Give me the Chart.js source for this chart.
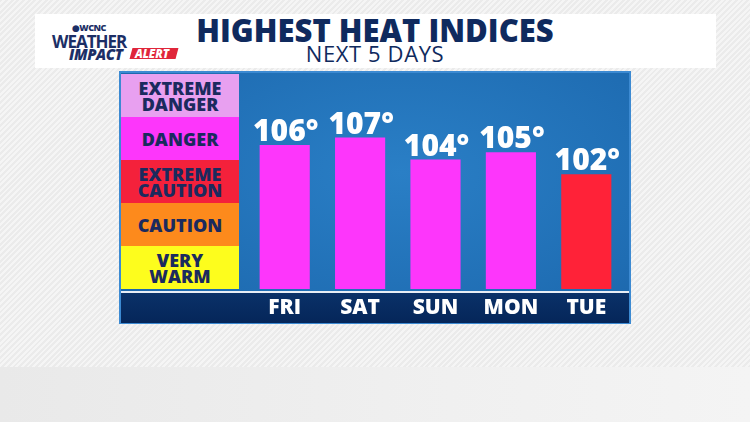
<!DOCTYPE html>
<html>
<head>
<meta charset="utf-8">
<script src="https://cdn.jsdelivr.net/npm/chart.js@4"></script>
<style>
  body { margin: 0; width: 750px; height: 422px; overflow: hidden; position: relative;
         font-family: "Open Sans", "DejaVu Sans", sans-serif;
         background: #ececec; }
  #bgtop { position: absolute; left: 0; top: 0; width: 750px; height: 367px;
           background: repeating-linear-gradient(135deg, #ebebeb 0 2px, #f5f5f5 2px 4px); }
  #bgbot { position: absolute; left: 0; top: 367px; width: 750px; height: 55px;
           background: linear-gradient(90deg, #e9e9e9, #f0f0f0 60%, #f4f4f4); }
  #header { position: absolute; left: 35px; top: 14px; width: 681px; height: 54px; background: #fff; }
  #title { position: absolute; left: 0; width: 750px; top: 12px; text-align: center;
           color: #0f2a5e; font-weight: 800; font-size: 31px; line-height: 36px; }
  #sub { position: absolute; left: 0; width: 750px; top: 41px; text-align: center;
         color: #0f2a5e; font-size: 22px; letter-spacing: 0.6px; line-height: 24px; }
  #logo { position: absolute; left: 52px; top: 21px; color: #1c2f66; }
  #panel { position: absolute; left: 119px; top: 71px; width: 508px; height: 249px;
           border: 2px solid #3c8ad2;
           background: radial-gradient(ellipse at 55% 40%, #2a7fc6 0%, #1f6db3 70%, #1b62a6 100%); }
  #strip { position: absolute; left: 121px; top: 291px; width: 508px; height: 30px;
           border-top: 2px solid #e8eef6;
           background: linear-gradient(180deg, #0a3168, #052659); }
  .band { position: absolute; left: 121px; width: 118px; height: 43px; color: #1b2a5e;
          font-weight: 800; font-size: 18px; line-height: 16px; text-align: center;
          display: flex; align-items: center; justify-content: center; }
  canvas { position: absolute; left: 0; top: 0; }
</style>
</head>
<body>
<div id="bgtop"></div>
<div id="bgbot"></div>
<div id="header"></div>
<div id="title">HIGHEST HEAT INDICES</div>
<div id="sub">NEXT 5 DAYS</div>
<div id="logo">
  <div style="position:absolute;left:20px;top:0px;font-size:9px;font-weight:800;letter-spacing:-0.5px;">&#9679;WCNC</div>
  <div style="position:absolute;left:0px;top:9px;font-size:17px;font-weight:700;letter-spacing:-1px;font-family:'Liberation Sans Narrow','Open Sans',sans-serif;">WEATHER</div>
  <div style="position:absolute;left:17px;top:23px;font-size:15px;font-weight:800;font-style:italic;letter-spacing:-0.4px;">IMPACT</div>
  <div style="position:absolute;left:79px;top:27px;width:46px;height:11px;background:#e0263a;transform:skewX(-15deg);"></div>
  <div style="position:absolute;left:83px;top:24.5px;font-size:11.5px;font-weight:800;font-style:italic;color:#fff;">ALERT</div>
</div>
<div id="panel"></div>
<div id="strip"></div>
<div class="band" style="top:74px;background:#e8a0f0;">EXTREME<br>DANGER</div>
<div class="band" style="top:117px;background:#fd36fb;">DANGER</div>
<div class="band" style="top:160px;background:#f4213b;">EXTREME<br>CAUTION</div>
<div class="band" style="top:203px;background:#fd8a1c;">CAUTION</div>
<div class="band" style="top:246px;background:#fdfd1d;">VERY<br>WARM</div>
<canvas id="chart" width="750" height="422"></canvas>
<script>
var days = ['FRI', 'SAT', 'SUN', 'MON', 'TUE'];
var heatIndex = [106, 107, 104, 105, 102];
var barColors = ['#fd36fb', '#fd36fb', '#fd36fb', '#fd36fb', '#ff2238'];

// day names in the navy strip, values above the bars
var labelPlugin = {
  id: 'labels',
  afterDatasetsDraw: function(chart) {
    var ctx = chart.ctx;
    var xs = chart.scales.x;
    var meta = chart.getDatasetMeta(0);
    ctx.save();
    ctx.fillStyle = '#ffffff';
    ctx.textAlign = 'center';
    ctx.textBaseline = 'alphabetic';
    for (var i = 0; i < days.length; i++) {
      var x = xs.getPixelForValue(i);
      ctx.font = '800 30px "Open Sans"';
      ctx.fillText(heatIndex[i] + '°', x + 1, meta.data[i].y - 4);
      ctx.font = '800 21px "Open Sans"';
      ctx.fillText(days[i], x, 314);
    }
    ctx.restore();
  }
};

new Chart(document.getElementById('chart'), {
  type: 'bar',
  data: {
    labels: days,
    datasets: [{
      data: heatIndex,
      backgroundColor: barColors,
      borderWidth: 0,
      barPercentage: 0.665,
      categoryPercentage: 1
    }]
  },
  options: {
    responsive: false,
    animation: false,
    layout: { padding: { left: 247, right: 126, top: 74, bottom: 133 } },
    plugins: { legend: { display: false }, tooltip: { enabled: false } },
    scales: {
      x: { display: false },
      y: { display: false, min: 86.3, max: 115.7 }
    }
  },
  plugins: [labelPlugin]
});
</script>
</body>
</html>
